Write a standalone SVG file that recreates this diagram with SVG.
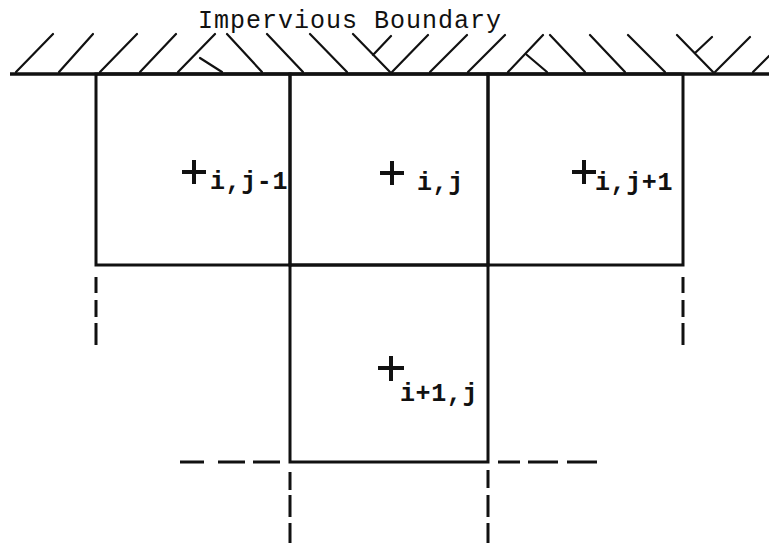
<svg xmlns="http://www.w3.org/2000/svg" width="769" height="543" viewBox="0 0 769 543">
  <defs>
    <style>
      .bg { fill: #ffffff; }
      .cell { fill: none; stroke: #111; stroke-width: 3; }
      .ground { fill: none; stroke: #111; stroke-width: 3.5; }
      .hatch { fill: none; stroke: #111; stroke-width: 2.2; stroke-linecap: round; }
      .ext { fill: none; stroke: #111; stroke-width: 3; }
      .mark { fill: none; stroke: #111; stroke-width: 4; }
      .title { font-family: "Liberation Mono", "Courier New", monospace; font-size: 25px; letter-spacing: 1px; fill: #111; }
      .lbl { font-family: "Liberation Mono", "Courier New", monospace; font-size: 25px; font-weight: bold; letter-spacing: 0.6px; fill: #111; }
    </style>
  </defs>
  <rect class="bg" x="0" y="0" width="769" height="543"/>

  <g id="boundary">
    <text class="title" x="198" y="28">Impervious Boundary</text>
    <path class="hatch" d="M16,72 L53,34 M59,72 L93,34 M100,72 L137,34 M140,72 L176,34 M178,72 L215,34 M200,58 L222,72 M227,34 L262,72 M267,34 L303,72 M310,34 L347,72 M353,34 L390,72 M373,55 L391,36 M392,72 L428,35 M430,72 L467,35 M468,72 L505,35 M508,72 L543,35 M527,55 L547,72 M550,35 L585,72 M590,35 L625,72 M628,35 L665,72 M677,35 L713,72 M695,53 L712,37 M715,72 L750,37 M753,72 L769,56"/>
    <line class="ground" x1="10" y1="74" x2="769" y2="74"/>
  </g>

  <g id="cell-i-jm1">
    <rect class="cell" x="96" y="74" width="194" height="191"/>
    <path class="mark" d="M182,172 H206 M194,160 V184"/>
    <text class="lbl" x="210" y="189">i,j-1</text>
  </g>

  <g id="cell-i-j">
    <rect class="cell" x="290" y="74" width="198" height="191"/>
    <path class="mark" d="M380,173 H404 M392,161 V185"/>
    <text class="lbl" x="417" y="190">i,j</text>
  </g>

  <g id="cell-i-jp1">
    <rect class="cell" x="488" y="74" width="195" height="191"/>
    <path class="mark" d="M572,172 H596 M584,160 V184"/>
    <text class="lbl" x="595" y="190">i,j+1</text>
  </g>

  <g id="cell-ip1-j">
    <rect class="cell" x="290" y="265" width="198" height="197"/>
    <path class="mark" d="M378,368 H404 M391,356 V381"/>
    <text class="lbl" x="400" y="401">i+1,j</text>
  </g>

  <g id="connectors">
    <path class="ext" d="M96,277 V293 M96,300 V317 M96,323 V345"/>
    <path class="ext" d="M683,277 V293 M683,300 V317 M683,323 V345"/>
    <path class="ext" d="M180,462 H204 M218,462 H245 M253,462 H280"/>
    <path class="ext" d="M498,462 H520 M528,462 H558 M567,462 H597"/>
    <path class="ext" d="M290,472 V490 M290,495 V517 M290,523 V543"/>
    <path class="ext" d="M488,470 V488 M488,495 V517 M488,523 V543"/>
  </g>
</svg>
